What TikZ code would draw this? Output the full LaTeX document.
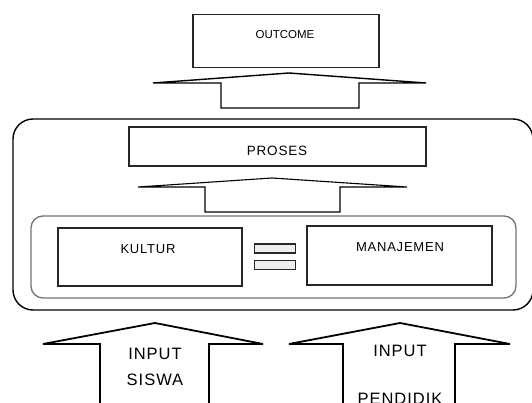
\documentclass[tikz,border=0pt]{standalone}
\usepackage{fontspec}
\setmainfont{Liberation Sans}
\newfontfamily\lblfont[LetterSpace=6]{Liberation Sans}
\begin{document}
\begin{tikzpicture}[x=1pt,y=-1pt,
  boxst/.style={draw=black!85,line width=1.3pt,rectangle,inner sep=0pt,fill=white},
  arrowst/.style={draw=black,line width=1.4pt,fill=white,line join=miter},
  txt/.style={inner sep=0pt,font=\lblfont\fontsize{13}{14}\selectfont},
  bigtxt/.style={inner sep=0pt,font=\lblfont\fontsize{16.5}{18}\selectfont}]
\clip (0,0) rectangle (532,403);
\fill[white] (0,0) rectangle (532,403);
% outer container
\draw[line width=1.4pt,rounded corners=20pt] (13,119) rectangle (533,310);
% inner container
\draw[black!55,line width=1.3pt,rounded corners=12pt] (31,216) rectangle (516,298);
% outcome box
\node[boxst,minimum width=186pt,minimum height=53pt] (outcome) at (286,41) {};
\node[inner sep=0pt,font=\fontsize{11.5}{12}\selectfont] (outcometxt) at (285,35) {OUTCOME};
% arrow 1
\draw[arrowst] (221,108) -- (221,83) -- (153,83) -- (289,73) -- (426,83) -- (359,83) -- (359,108) -- cycle;
% proses box
\node[boxst,minimum width=297pt,minimum height=39pt] (proses) at (277.5,146.5) {};
\node[txt,font=\lblfont\fontsize{13.5}{14}\selectfont] (prosestxt) at (277,151) {PROSES};
% arrow 2
\draw[arrowst,line width=1.1pt] (205,212) -- (205,187) -- (138,187) -- (272,178) -- (407,187) -- (340,187) -- (340,212) -- cycle;
% kultur box
\node[boxst,minimum width=184pt,minimum height=58pt] (kultur) at (150,257) {};
\node[txt] (kulturtxt) at (148,249) {KULTUR};
% equal sign
\node[draw=black!85,line width=1.2pt,fill=black!7,minimum width=41pt,minimum height=9pt,inner sep=0pt] (eqa) at (275,248.5) {};
\node[draw=black!85,line width=1.2pt,fill=black!7,minimum width=41pt,minimum height=9pt,inner sep=0pt] (eqb) at (275,265) {};
% manajemen box
\node[boxst,minimum width=185pt,minimum height=59pt] (manajemen) at (399.5,255.5) {};
\node[txt] (manajementxt) at (400,247) {MANAJEMEN};
% input arrows
\draw[arrowst,line width=1.8pt] (100,410) -- (100,344) -- (43,344) -- (155,323) -- (263,344) -- (209,344) -- (209,410);
\draw[arrowst,line width=1.8pt] (343,410) -- (343,344) -- (289,344) -- (400,323) -- (510,344) -- (455,344) -- (455,410);
\node[bigtxt] (in1a) at (155,354) {INPUT};
\node[bigtxt] (in1b) at (155,380) {SISWA};
\node[bigtxt] (in2a) at (400,351) {INPUT};
\node[bigtxt] (in2b) at (400,399) {PENDIDIK};
\end{tikzpicture}
\end{document}
